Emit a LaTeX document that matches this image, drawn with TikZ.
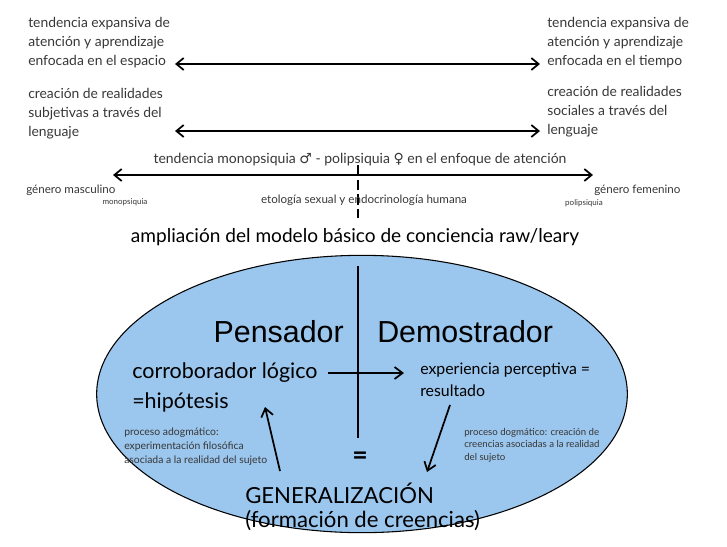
\documentclass[tikz,border=0pt]{standalone}
\usepackage{fontspec}
\setmainfont{Lato}
\newfontfamily\arialf{Liberation Sans}
\newfontfamily\symf{DejaVu Sans}
\usetikzlibrary{arrows.meta,positioning,shapes.geometric}
\definecolor{ovfill}{RGB}{155,198,237}
\definecolor{txtgray}{RGB}{55,55,55}
\tikzset{
  blk/.style={anchor=north west,align=left,inner sep=0pt,text=txtgray,font=\fontsize{10.4}{14.25}\selectfont},
  sml/.style={inner sep=0pt,text=txtgray,font=\fontsize{8.7}{9}\selectfont},
  tny/.style={inner sep=0pt,text=txtgray,font=\fontsize{6}{7}\selectfont},
  note/.style={anchor=north west,align=left,inner sep=0pt,text=txtgray,font=#1},
  big/.style={anchor=west,inner sep=0pt,font=\fontsize{16.1}{18}\selectfont},
  arr/.style={{Straight Barb[length=5.5pt,width=9pt]}-{Straight Barb[length=5.5pt,width=9pt]},line width=1.3pt},
  sarr/.style={-{Straight Barb[length=6pt,width=9pt]},line width=1.3pt},
}
\begin{document}
\begin{tikzpicture}[x=0.75pt,y=-0.75pt]
 \useasboundingbox (0,0) rectangle (727,546);
 % upper scale
 \node[blk] (tl1) at (28,17) {tendencia expansiva de\\atención y aprendizaje\\enfocada en el espacio};
 \node[blk] (tr1) at (547,17) {tendencia expansiva de\\atención y aprendizaje\\enfocada en el tiempo};
 \node[blk] (tl2) at (28,88) {creación de realidades\\subjetivas a través del\\lenguaje};
 \node[blk] (tr2) at (547,86) {creación de realidades\\sociales a través del\\lenguaje};
 \coordinate (a1l) at (175,64); \coordinate (a1r) at (540,64);
 \coordinate (a2l) at (175,131); \coordinate (a2r) at (540,131);
 \draw[arr] (a1l) -- (a1r);
 \draw[arr] (a2l) -- (a2r);
 % gender axis
 \node[inner sep=0pt,text=txtgray,font=\fontsize{10.5}{12}\selectfont] (tend) at (360,160) {tendencia monopsiquia {\symf ♂} - polipsiquia {\symf ♀} en el enfoque de atención};
 \coordinate (a3l) at (113,175); \coordinate (a3r) at (593,175);
 \draw[arr] (a3l) -- (a3r);
 \coordinate (dtop) at (358,165); \coordinate (dbot) at (358,218);
 \draw[line width=1.4pt,dash pattern=on 8pt off 3pt] (dtop) -- (dbot);
 \node[sml,anchor=west] (masc) at (26,190) {género masculino};
 \node[tny] (mono) at (125,202) {monopsiquia};
 \node[sml] (etol) at (364,200) {etología sexual y endocrinología humana};
 \node[sml,anchor=west] (fem) at (594,190) {género femenino};
 \node[tny] (poli) at (584,203) {polipsiquia};
 \node[inner sep=0pt,font=\fontsize{14.3}{16}\selectfont] (titl) at (355,237) {ampliación del modelo básico de conciencia raw/leary};
 % model
 \node[ellipse,draw,fill=ovfill,line width=0.8pt,minimum width=398pt,minimum height=208pt] (ovl) at (362,394) {};
 \coordinate (vtop) at (358,266); \coordinate (vbot) at (358,438);
 \draw[line width=1.3pt] (vtop) -- (vbot);
 \node[inner sep=0pt,anchor=east,font=\arialf\fontsize{22.8}{24}\selectfont] (pens) at (344,332) {Pensador};
 \node[inner sep=0pt,anchor=west,font=\arialf\fontsize{22.8}{24}\selectfont] (demo) at (377,332) {Demostrador};
 \node[big] (corr) at (132,373) {corroborador lógico};
 \node[big] (hip) at (132,402) {=hipótesis};
 \node[inner sep=0pt,anchor=west,font=\fontsize{11.9}{13}\selectfont] (expe) at (420,370) {experiencia perceptiva =};
 \node[inner sep=0pt,anchor=west,font=\fontsize{11.9}{13}\selectfont] (resu) at (420,391) {resultado};
 \draw[sarr] ([xshift=7.5pt]corr.east) -- ([xshift=-12pt]corr.east -| expe.west);
 \node[note=\fontsize{7.8}{10.5}\selectfont] (adog) at (124,428) {proceso adogmático:\\experimentación filosófica\\asociada a la realidad del sujeto};
 \node[note=\fontsize{7.25}{9.4}\selectfont] (dogm) at (464,428) {proceso dogmático: creación de\\creencias asociadas a la realidad\\del sujeto};
 \node[inner sep=0pt,font=\bfseries\fontsize{20}{22}\selectfont] (eq) at (360,458) {=};
 \node[big,font=\fontsize{16.6}{18}\selectfont] (gene) at (245,493) {GENERALIZACIÓN};
 \node[big,font=\fontsize{16.6}{18}\selectfont] (crea) at (245,521) {(formación de creencias)};
 \coordinate (lup0) at (280,471); \coordinate (lup1) at (265,407);
 \coordinate (rdn0) at (450,405); \coordinate (rdn1) at (427,472);
 \draw[sarr] (lup0) -- (lup1);
 \draw[sarr] (rdn0) -- (rdn1);
\end{tikzpicture}
\end{document}
